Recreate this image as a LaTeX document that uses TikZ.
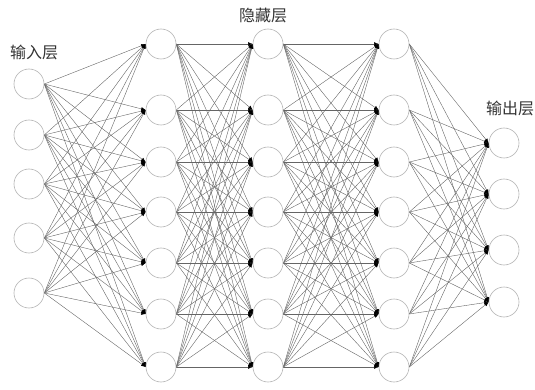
\documentclass[tikz,border=0pt]{standalone}
\usepackage{fontspec}
\newfontfamily\cjk{Noto Sans CJK SC}
\usetikzlibrary{arrows.meta,backgrounds}
\definecolor{ngray}{HTML}{9A9A9A}
\definecolor{ldark}{HTML}{4A4A4A}

\begin{document}
\begin{tikzpicture}[
  x=1pt,y=-1pt,>={Latex[length=4.5pt,width=3.6pt,color=black]},
  neuron/.style={circle,draw=ngray!75,line width=.6pt,minimum size=30pt,inner sep=0pt},
  link/.style={->,draw=ldark!85,line width=.4pt},
  title/.style={font=\cjk\fontsize{16}{16}\selectfont,text=black!80}
]
\useasboundingbox (0,0) rectangle (535,390);

% layers of neurons
\foreach \y [count=\i] in {84,135,184,238,293}
  \node[neuron] (in\i) at (29,\y) {};
\foreach \y [count=\i] in {44,110,162,212,263,314,367} {
  \node[neuron] (ha\i) at (161,\y) {};
  \node[neuron] (hb\i) at (268,\y) {};
  \node[neuron] (hc\i) at (394,\y) {};
}
\foreach \y [count=\i] in {143,194,250,302}
  \node[neuron] (out\i) at (504,\y) {};

% full connections between neighbouring layers
\begin{scope}[on background layer]
\foreach \i in {1,...,5}
  \foreach \j in {1,...,7}
    \draw[link] (in\i.east) -- (ha\j.west);
\foreach \i in {1,...,7}
  \foreach \j in {1,...,7} {
    \draw[link] (ha\i.east) -- (hb\j.west);
    \draw[link] (hb\i.east) -- (hc\j.west);
  }
\foreach \i in {1,...,7}
  \foreach \j in {1,...,4}
    \draw[link] (hc\i.east) -- (out\j.west);
\end{scope}

\node[title] (lin) at (34,52) {输入层};
\node[title] (lhid) at (263,15) {隐藏层};
\node[title] (lout) at (510,108) {输出层};
\end{tikzpicture}
\end{document}
